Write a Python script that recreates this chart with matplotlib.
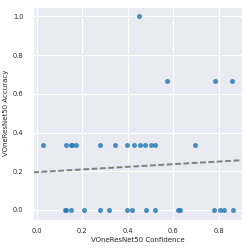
import matplotlib
matplotlib.use('Agg')
import matplotlib.pyplot as plt
import seaborn as sns
import numpy as np

sns.set_style('darkgrid')

# confidence / accuracy pairs
conf_top = [0.025, 0.129, 0.150, 0.154, 0.172, 0.276, 0.342, 0.396, 0.426, 0.455,
            0.473, 0.502, 0.521, 0.694]
conf_zero = [0.125, 0.129, 0.151, 0.205, 0.276, 0.315, 0.395, 0.417, 0.479, 0.520,
             0.621, 0.631, 0.778, 0.804, 0.822, 0.860]
conf_hi = [0.448, 0.570, 0.782, 0.859]
acc_hi = [1.0, 2/3, 2/3, 2/3]

x = np.array(conf_top + conf_zero + conf_hi)
y = np.array([1/3]*len(conf_top) + [0.0]*len(conf_zero) + acc_hi)

fig = plt.figure(figsize=(2.49, 2.49), dpi=100)
ax = fig.add_axes([0.133, 0.118, 0.839, 0.855])

ax.scatter(x, y, s=13, color='#1f77b4', alpha=0.8, linewidths=0)
xl = ax.get_xlim()
# linear fit, drawn across the whole axis
k, b = np.polyfit(x, y, 1)
xx = np.array(xl)
ax.plot(xx, k*xx + b, color='gray', linestyle=(0, (3, 1.3)), linewidth=1.4)
ax.set_xlim(xl)

ax.set_xticks([0.0, 0.2, 0.4, 0.6, 0.8])
ax.set_yticks([0.0, 0.2, 0.4, 0.6, 0.8, 1.0])
ax.tick_params(axis='x', labelsize=4.8, pad=2.5)
ax.tick_params(axis='y', labelsize=4.8, pad=3.5)
ax.set_xlabel('VOneResNet50 Confidence', fontsize=5, labelpad=2.5)
ax.set_ylabel('VOneResNet50 Accuracy', fontsize=5, labelpad=2.5)

fig.savefig('out.png', dpi=100)
